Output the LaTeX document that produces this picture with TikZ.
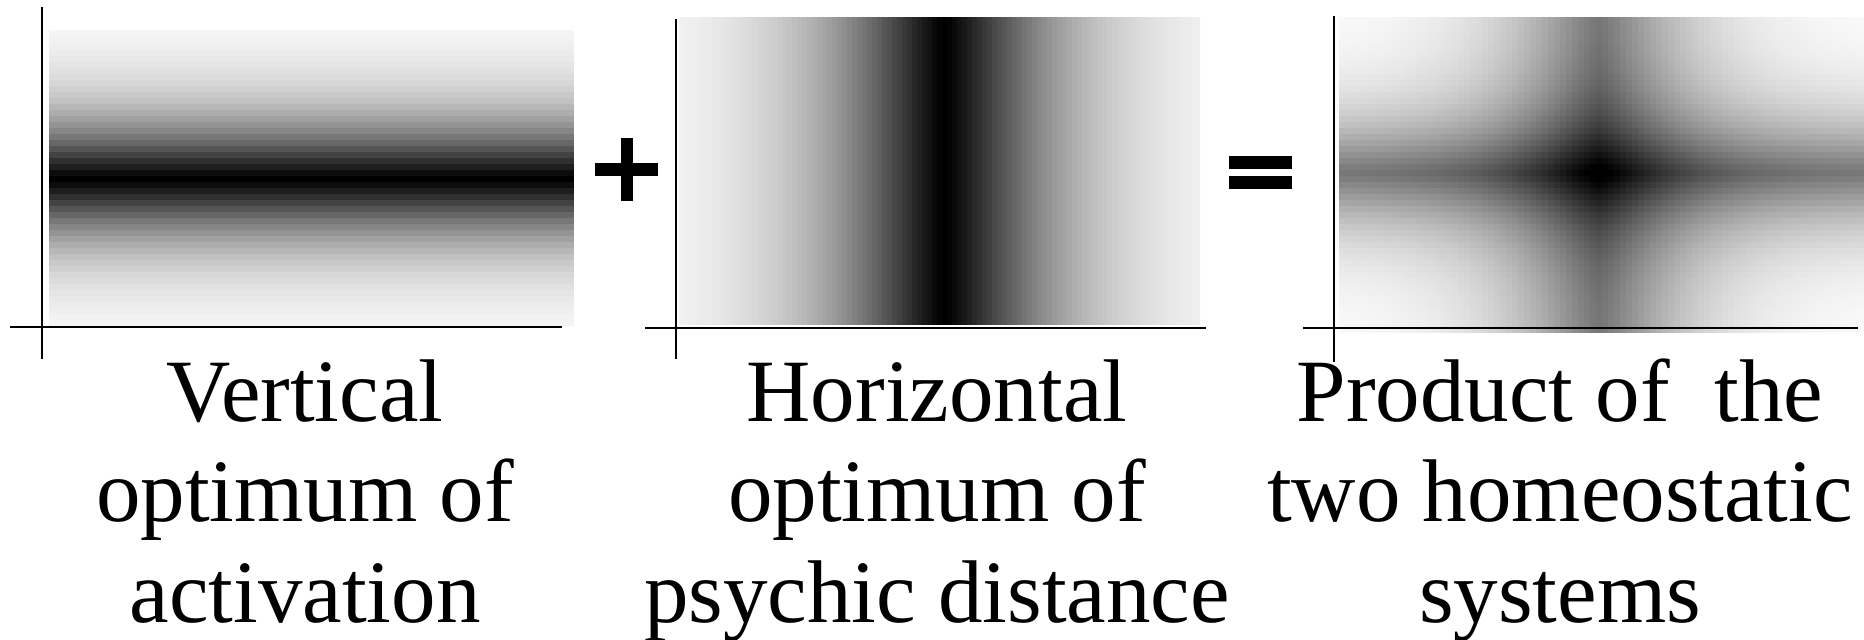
\documentclass[tikz,border=0pt]{standalone}
\usepackage{fontspec}
\setmainfont{Liberation Serif}
\tikzset{
  axisline/.style={line width=1pt, black},
  lbl/.style={font=\fontsize{44.5}{50}\selectfont, anchor=base, inner sep=0pt},
  opsign/.style={fill=black},
}
\begin{document}
\begin{tikzpicture}[x=0.5pt,y=-0.5pt]
\useasboundingbox (0,0) rectangle (1864,639);
% ---- panel 1: horizontal dark band (vertical optimum)
\begin{scope}
\clip (49,30) rectangle (574,325);
\foreach \k in {0,...,50} {
  \pgfmathsetmacro\ya{26+6*\k}
  \pgfmathsetmacro\ee{min(12,((abs(\ya+3-179)+0.01)/60)^1.3)}
  \pgfmathsetmacro\dd{max(0,min(100,100*exp(-\ee)))}
  \fill[black!\dd] (49,\ya) rectangle (574,\ya+6.6);
}
\end{scope}
% ---- panel 2: vertical dark band (horizontal optimum)
\begin{scope}
\clip (679,17) rectangle (1200,325);
\foreach \k in {0,...,105} {
  \pgfmathsetmacro\xa{676.5+5*\k}
  \pgfmathsetmacro\ee{min(12,((abs(\xa+2.5-944)+0.01)/117)^1.3)}
  \pgfmathsetmacro\dd{max(0,min(100,100*exp(-\ee)))}
  \fill[black!\dd] (\xa,17) rectangle (\xa+5.6,325);
}
\end{scope}
% ---- panel 3: combined field
\foreach \i in {0,...,88} {
  \pgfmathsetmacro\ee{min(12,((abs(1338+6*\i+3-1599)+0.01)/92)^1.3)}
  \pgfmathsetmacro\cv{max(0,exp(-\ee))}
  \expandafter\xdef\csname pcol\i\endcsname{\cv}
}
\begin{scope}
\clip (1339,17) rectangle (1864,332);
\foreach \j in {0,...,52} {
  \pgfmathsetmacro\ya{14+6*\j}
  \pgfmathsetmacro\ee{min(12,((abs(\ya+3-173)+0.01)/57)^1.3)}
  \pgfmathsetmacro\rv{max(0,exp(-\ee))}
  \foreach \i in {0,...,88} {
    \pgfmathsetmacro\xa{1338+6*\i}
    \pgfmathsetmacro\dd{max(0,min(100,52*(\rv+\csname pcol\i\endcsname)))}
    \fill[black!\dd] (\xa,\ya) rectangle (\xa+6.6,\ya+6.6);
  }
}
\end{scope}
% ---- axes
\draw[axisline] (42,7) -- (42,359);
\draw[axisline] (10,327) -- (562,327);
\draw[axisline] (676,19) -- (676,359);
\draw[axisline] (645,328) -- (1206,328);
\draw[axisline] (1334,16) -- (1334,362);
\draw[axisline] (1303,328) -- (1858,328);
% ---- plus and equals signs
\fill[opsign] (595,163) rectangle (658,176);
\fill[opsign] (621,138) rectangle (633,201);
\fill[opsign] (1229,156) rectangle (1292,169);
\fill[opsign] (1229,176) rectangle (1292,189);
% ---- labels
\node[lbl] (v1) at (305,421) {Vertical};
\node[lbl] (v2) at (305,521) {optimum of};
\node[lbl] (v3) at (305,622) {activation};
\node[lbl] (h1) at (937,421) {Horizontal};
\node[lbl] (h2) at (937,521) {optimum of};
\node[lbl] (h3) at (937,622) {psychic distance};
\node[lbl] (p1) at (1560,421) {Product of\ \ the};
\node[lbl] (p2) at (1560,521) {two homeostatic};
\node[lbl] (p3) at (1560,622) {systems};
\end{tikzpicture}
\end{document}
